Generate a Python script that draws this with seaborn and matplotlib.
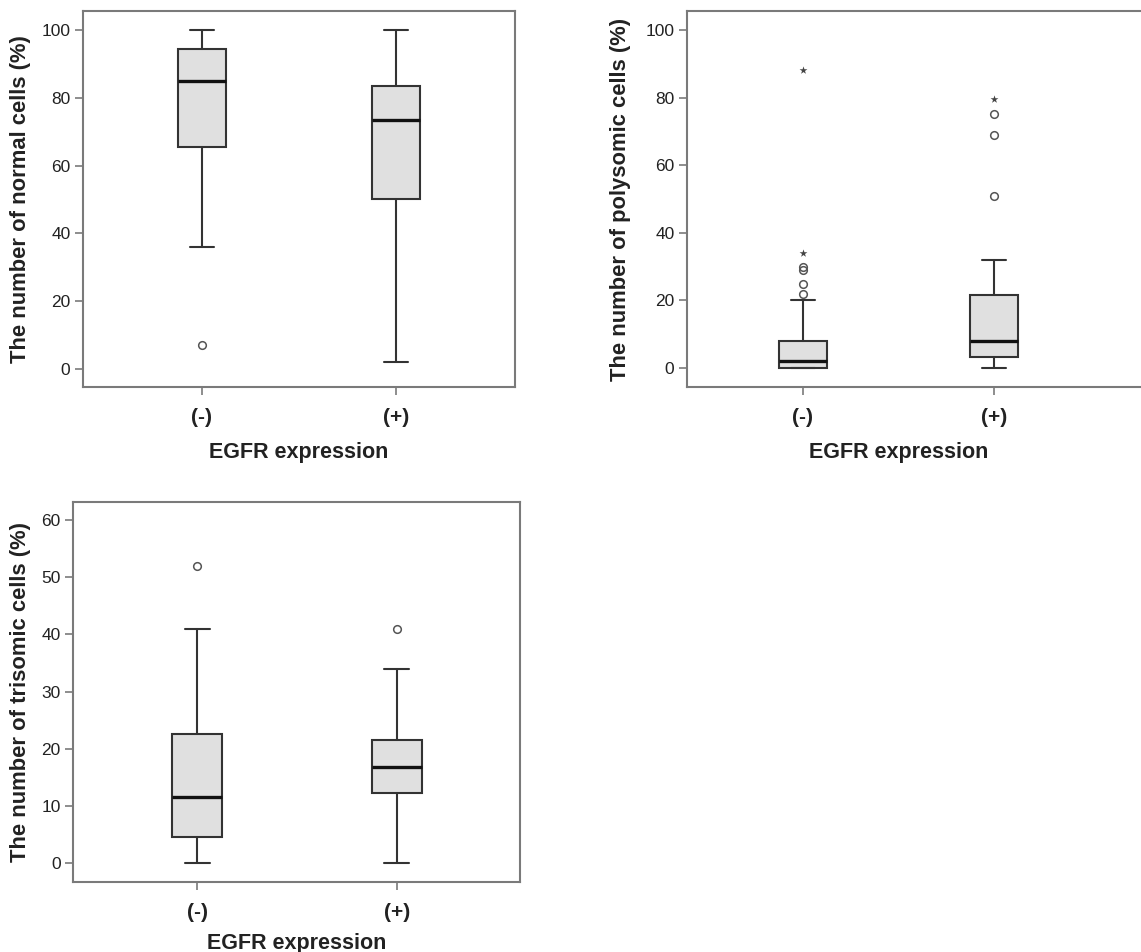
import matplotlib
matplotlib.use("Agg")
import matplotlib.pyplot as plt
import seaborn as sns
import pandas as pd

sns.set_style("white")
plt.rcParams["font.family"] = ["Liberation Sans", "DejaVu Sans"]

groups = ["(-)", "(+)"]

# normal cells
normal_q1 = [65.5, 50.0]
normal_med = [85.0, 73.3]
normal_q3 = [94.5, 83.5]
normal_lo = [36.0, 2.0]
normal_hi = [100.0, 100.0]
normal_out = [[7.0], []]
normal_ext = [[], []]

# polysomic cells
poly_q1 = [0.0, 3.4]
poly_med = [2.0, 8.0]
poly_q3 = [8.0, 21.5]
poly_lo = [0.0, 0.0]
poly_hi = [20.0, 32.0]
poly_out = [[22.0, 25.0, 29.0, 30.0], [51.0, 69.0, 75.0]]
poly_ext = [[34.0, 88.0], [79.5]]

# trisomic cells
tri_q1 = [4.5, 12.2]
tri_med = [11.5, 16.8]
tri_q3 = [22.5, 21.5]
tri_lo = [0.0, 0.0]
tri_hi = [41.0, 34.0]
tri_out = [[52.0], [41.0]]
tri_ext = [[], []]

edge = "#333333"
fill = "#e0e0e0"
frame = "#7a7a7a"
txt = "#222222"


def panel(ax, q1, med, q3, lo, hi, out, ext, ylabel, ylim, yticks, xlim, ylab_x, xlab_y):
    stats = []
    for i in range(len(groups)):
        stats.append(dict(q1=q1[i], med=med[i], q3=q3[i], whislo=lo[i], whishi=hi[i],
                          fliers=out[i], label=groups[i]))
    ax.bxp(stats, positions=range(len(groups)), widths=0.25, patch_artist=True,
           showfliers=True, capwidths=0.125,
           boxprops=dict(facecolor=fill, edgecolor=edge, linewidth=1.5),
           medianprops=dict(color="#111111", linewidth=2.4),
           whiskerprops=dict(color=edge, linewidth=1.5),
           capprops=dict(color=edge, linewidth=1.5),
           flierprops=dict(marker="o", markersize=5.5, markerfacecolor="none",
                           markeredgecolor="#555555", markeredgewidth=1.1))
    ext_df = pd.DataFrame([(i, v) for i in range(len(groups)) for v in ext[i]],
                          columns=["pos", "val"])
    if len(ext_df):
        sns.scatterplot(data=ext_df, x="pos", y="val", marker="*", s=35,
                        color="#444444", linewidth=0, ax=ax)
    ax.set_xlim(*xlim)
    ax.set_ylim(*ylim)
    ax.set_yticks(yticks)
    ax.set_xticks(range(len(groups)))
    ax.set_xticklabels(groups, fontweight="bold", fontsize=15)
    ax.set_ylabel(ylabel, fontweight="bold", fontsize=15.8, color=txt)
    ax.set_xlabel("EGFR expression", fontweight="bold", fontsize=15.5, color=txt)
    ax.tick_params(axis="y", which="major", direction="out", length=6, width=1.2,
                   color=frame, labelcolor=txt, labelsize=12.5, pad=3, left=True)
    ax.tick_params(axis="x", which="major", direction="out", length=6, width=1.2,
                   color=frame, labelcolor=txt, pad=9, bottom=True)
    for s in ax.spines.values():
        s.set_color(frame)
        s.set_linewidth(1.5)
    ax.yaxis.set_label_coords(ylab_x, 0.5)
    # x label centred between the two boxes
    ax.xaxis.set_label_coords((0.5 - xlim[0]) / (xlim[1] - xlim[0]), xlab_y)


fig = plt.figure(figsize=(11.41, 9.52), dpi=100)

ax1 = fig.add_axes([0.0727, 0.5935, 0.3786, 0.395])
panel(ax1, normal_q1, normal_med, normal_q3, normal_lo, normal_hi, normal_out, normal_ext,
      "The number of normal cells (%)", (-5.3, 105.6), [0, 20, 40, 60, 80, 100], (-0.613, 1.613),
      -0.12, -0.146)

ax2 = fig.add_axes([0.602, 0.5935, 0.398, 0.395])
panel(ax2, poly_q1, poly_med, poly_q3, poly_lo, poly_hi, poly_out, poly_ext,
      "The number of polysomic cells (%)", (-5.6, 105.6), [0, 20, 40, 60, 80, 100], (-0.608, 1.772),
      -0.123, -0.146)
ax2.spines["right"].set_visible(False)

ax3 = fig.add_axes([0.064, 0.0735, 0.3917, 0.399])
panel(ax3, tri_q1, tri_med, tri_q3, tri_lo, tri_hi, tri_out, tri_ext,
      "The number of trisomic cells (%)", (-3.3, 63.1), [0, 10, 20, 30, 40, 50, 60], (-0.62, 1.615),
      -0.094, -0.134)

fig.savefig("out.png", dpi=100)
